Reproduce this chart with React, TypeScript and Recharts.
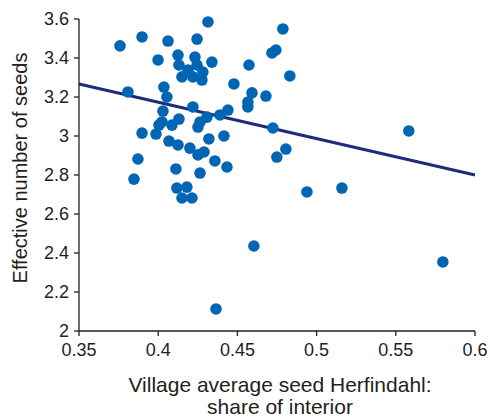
import { ReferenceLine, Scatter, ScatterChart, XAxis, YAxis, Label } from "recharts";

// village average Herfindahl (share of interior) vs effective number of seeds
const herfindahl = [
  0.3759, 0.3898, 0.4062, 0.4245, 0.4314, 0.3999, 0.4125, 0.4131, 0.4188, 0.4232,
  0.4245, 0.4282, 0.4339, 0.415, 0.4219, 0.4276, 0.3809, 0.4036, 0.4055, 0.4219,
  0.403, 0.4787, 0.4718, 0.4743, 0.4573, 0.4478, 0.4831, 0.468, 0.4592, 0.4566,
  0.4566, 0.444, 0.439, 0.4308, 0.4131, 0.4264, 0.4251, 0.4024, 0.4005, 0.4087,
  0.3898, 0.3986, 0.4068, 0.4125, 0.42, 0.4251, 0.4289, 0.432, 0.4415, 0.3872,
  0.4358, 0.4434, 0.4112, 0.4264, 0.3847, 0.4118, 0.4181, 0.415, 0.4213, 0.4724,
  0.5582, 0.4806, 0.4749, 0.4939, 0.516, 0.4365, 0.4604, 0.5797,
];
const seeds = [
  3.462, 3.508, 3.487, 3.497, 3.585, 3.39, 3.415, 3.364, 3.338, 3.405,
  3.364, 3.328, 3.379, 3.303, 3.303, 3.287, 3.226, 3.251, 3.2, 3.149,
  3.128, 3.549, 3.426, 3.441, 3.364, 3.267, 3.308, 3.205, 3.221, 3.174,
  3.149, 3.133, 3.108, 3.097, 3.087, 3.072, 3.046, 3.072, 3.056, 3.056,
  3.015, 3.01, 2.974, 2.954, 2.938, 2.903, 2.918, 2.985, 3.0, 2.882,
  2.872, 2.841, 2.831, 2.81, 2.779, 2.733, 2.738, 2.682, 2.682, 3.041,
  3.026, 2.933, 2.892, 2.713, 2.733, 2.113, 2.436, 2.354,
];
const fitX = [0.35, 0.6];
const fitY = [3.267, 2.8];

const xTicks = [0.35, 0.4, 0.45, 0.5, 0.55, 0.6];
const yTicks = [2, 2.2, 2.4, 2.6, 2.8, 3, 3.2, 3.4, 3.6];

const points = herfindahl.map((h, i) => ({ x: h, y: seeds[i] }));
const fitSegment = fitX.map((x, i) => ({ x, y: fitY[i] }));

const FONT = "'Liberation Sans', Arial, sans-serif";
const INK = "#231f20";

function XTitle(props: any) {
  const vb = props.viewBox;
  const cx = vb.x + vb.width / 2 + 3;
  return (
    <text x={cx} textAnchor="middle" fill={INK} fontSize={21} fontFamily={FONT}>
      <tspan x={cx} y={392}>Village average seed Herfindahl:</tspan>
      <tspan x={cx} y={414}>share of interior</tspan>
    </text>
  );
}

function YTitle() {
  const cy = 168;
  return (
    <text
      x={27}
      y={cy}
      transform={`rotate(-90 27 ${cy})`}
      textAnchor="middle"
      fill={INK}
      fontSize={20}
      fontFamily={FONT}
    >
      Effective number of seeds
    </text>
  );
}

export default function App() {
  return (
    <div style={{ position: "absolute", left: 0, top: 0, background: "#fff" }}>
      <ScatterChart width={490} height={417} margin={{ top: 19, right: 15, bottom: 0, left: 0 }}>
        <XAxis
          type="number"
          dataKey="x"
          domain={[0.35, 0.6]}
          ticks={xTicks}
          height={86}
          tickSize={5}
          tickMargin={7}
          stroke={INK}
          strokeWidth={1.3}
          tick={{ fill: INK, fontSize: 18, fontFamily: FONT }}
        >
          <Label content={<XTitle />} />
        </XAxis>
        <YAxis
          type="number"
          dataKey="y"
          domain={[2, 3.6]}
          ticks={yTicks}
          width={79}
          tickSize={5}
          tickMargin={5}
          stroke={INK}
          strokeWidth={1.3}
          tick={{ fill: INK, fontSize: 18, fontFamily: FONT }}
        >
          <Label content={<YTitle />} />
        </YAxis>
        <ReferenceLine segment={fitSegment} stroke="#1f2a78" strokeWidth={3} />
        <Scatter
          data={points}
          isAnimationActive={false}
          shape={(p: any) => <circle cx={p.cx} cy={p.cy} r={5.8} fill="#0066b3" />}
        />
      </ScatterChart>
    </div>
  );
}
